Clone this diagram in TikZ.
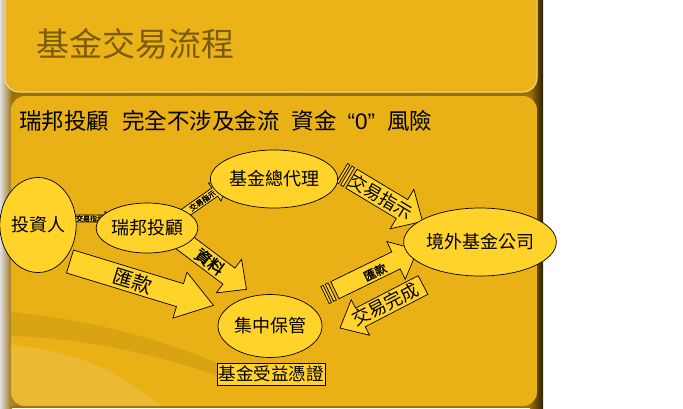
\documentclass[tikz,border=0pt]{standalone}
\usepackage{fontspec}
\newfontfamily\cjk{Noto Sans CJK TC}
\newfontfamily\cjkb[FakeBold=1.5]{Noto Sans CJK TC}
\newfontfamily\lat{Liberation Sans}
\usetikzlibrary{shapes.geometric}
\definecolor{panel}{HTML}{EBB318}
\definecolor{panelb}{HTML}{E9B116}
\definecolor{ell}{HTML}{FFD32A}
\definecolor{titlec}{HTML}{7A5C0C}
\definecolor{darkbg}{HTML}{9A700A}
\definecolor{edgehi}{HTML}{F6DC8A}
\newcommand{\fs}[1]{\fontsize{#1pt}{#1pt}\selectfont}
\begin{document}
\begin{tikzpicture}[x=1pt,y=-1pt,
  arrowfill/.style={fill=ell, draw=black, line width=0.7pt, line join=miter},
  ellnode/.style={ellipse, fill=ell, draw=black, line width=0.7pt, inner sep=0pt, font=\cjk\fs{18}},
  atext/.style={transform shape, inner sep=0pt, text=black}]
\useasboundingbox (0,0) rectangle (683,408);
\fill[white] (0,0) rectangle (683,408);
% slide background
\fill[darkbg] (0,0) rectangle (543,408);
\shade[left color=gray!25, right color=darkbg] (0,0) rectangle (12,408);
\shade[left color=darkbg, right color=black!70!darkbg] (530,0) rectangle (543,408);
% top panel
\draw[fill=panel, draw=edgehi, line width=1pt, rounded corners=14pt] (5,-20) rectangle (537,92);
% main panel
\fill[panelb, rounded corners=14pt] (11,96) rectangle (537,406);
% glossy swoosh bottom-left
\fill[black!40!panelb, opacity=0.18] (11,312) .. controls (70,318) and (140,330) .. (230,368) -- (230,380) .. controls (140,348) and (70,338) .. (11,336) -- cycle;
\fill[white, opacity=0.12] (11,345) .. controls (60,350) and (110,362) .. (160,406) -- (11,406) -- cycle;
% title and subtitle
\node[anchor=west, inner sep=0pt, text=titlec, font=\cjk\fs{33}] (title) at (36,44) {基金交易流程};
\node[anchor=west, inner sep=0pt, text=black, font=\cjk\fs{22.5}] (sub) at (19,120.5)
  {瑞邦投顧\hspace{13pt}完全不涉及金流\hspace{12pt}資金\hspace{11pt}{\lat “0”}\hspace{12pt}風險};
% arrow 1: investor -> Ruibang
\begin{scope}[shift={(73,218.5)}, rotate=0]
  \draw[arrowfill] (0,-3.5) -- (32,-3.5) -- (32,-7) -- (40,0) -- (32,7) -- (32,3.5) -- (0,3.5) -- cycle;
  \node[atext, font=\cjkb\fs{7}] (t1) at (17,0) {交易指示};
\end{scope}
% arrow 2: Ruibang -> master agent
\begin{scope}[shift={(182,215)}, rotate=35]
  \draw[arrowfill] (0,-5) -- (40,-5) -- (40,-11) -- (55,0) -- (40,11) -- (40,5) -- (0,5) -- cycle;
  \node[atext, font=\cjkb\fs{7.5}] (t2) at (25,0) {交易指示};
\end{scope}
% arrow 3: Ruibang -> custody (data)
\begin{scope}[shift={(181,240)}, rotate=-37]
  \draw[arrowfill] (0,-10) -- (60,-10) -- (60,-21) -- (82,0) -- (60,21) -- (60,10) -- (0,10) -- cycle;
  \node[atext, font=\cjkb\fs{16}] (t3) at (36,0) {資料};
\end{scope}
% arrow 4: investor -> custody (remittance)
\begin{scope}[shift={(70,261.5)}, rotate=-17]
  \draw[arrowfill] (0,-12) -- (115,-12) -- (115,-24) -- (150,0) -- (115,24) -- (115,12) -- (0,12) -- cycle;
  \node[atext, font=\cjk\fs{20}] (t4) at (66,0) {匯款};
\end{scope}
% arrow 5: master agent -> overseas (striped)
\begin{scope}[shift={(342,173)}, rotate=-31]
  \draw[arrowfill] (0,-11) rectangle (2.5,11);
  \draw[arrowfill] (5,-11) rectangle (8,11);
  \draw[arrowfill] (11,-11) -- (70,-11) -- (70,-23) -- (94,0) -- (70,23) -- (70,11) -- (11,11) -- cycle;
  \node[atext, font=\cjk\fs{17.5}] (t5) at (46,0) {交易指示};
\end{scope}
% arrow 6: custody -> overseas (striped)
\begin{scope}[shift={(325,295)}, rotate=26]
  \draw[arrowfill] (0,-9.5) rectangle (2.5,9.5);
  \draw[arrowfill] (5,-9.5) rectangle (8,9.5);
  \draw[arrowfill] (11,-9.5) -- (79,-9.5) -- (79,-21) -- (103,0) -- (79,21) -- (79,9.5) -- (11,9.5) -- cycle;
  \node[atext, font=\cjkb\fs{12}] (t6) at (55,1.5) {匯款};
\end{scope}
% arrow 7: overseas -> custody
\begin{scope}[shift={(423,285)}, rotate=-152.6]
  \draw[arrowfill] (0,-10.5) -- (70.5,-10.5) -- (70.5,-20) -- (93.5,0) -- (70.5,20) -- (70.5,10.5) -- (0,10.5) -- cycle;
  \node[atext, rotate=180, font=\cjk\fs{18}] (t7) at (42,0) {交易完成};
\end{scope}
% ellipses
\node[ellnode, minimum width=74pt, minimum height=95pt] (inv) at (38,225) {投資人};
\node[ellnode, minimum width=78pt, minimum height=50pt] (rb) at (147,228) {瑞邦投顧};
\node[ellnode, minimum width=104pt, minimum height=58pt] (agent) at (274,179) {基金總代理};
\node[ellnode, minimum width=120pt, minimum height=68pt] (over) at (480,242) {境外基金公司};
\node[ellnode, minimum width=104pt, minimum height=63pt] (cust) at (270,326) {集中保管};
\node[draw=black, fill=ell, line width=0.7pt, inner sep=0pt, minimum width=108pt, minimum height=22pt, font=\cjk\fs{17.5}] (cert) at (271,374) {基金受益憑證};
\end{tikzpicture}
\end{document}
